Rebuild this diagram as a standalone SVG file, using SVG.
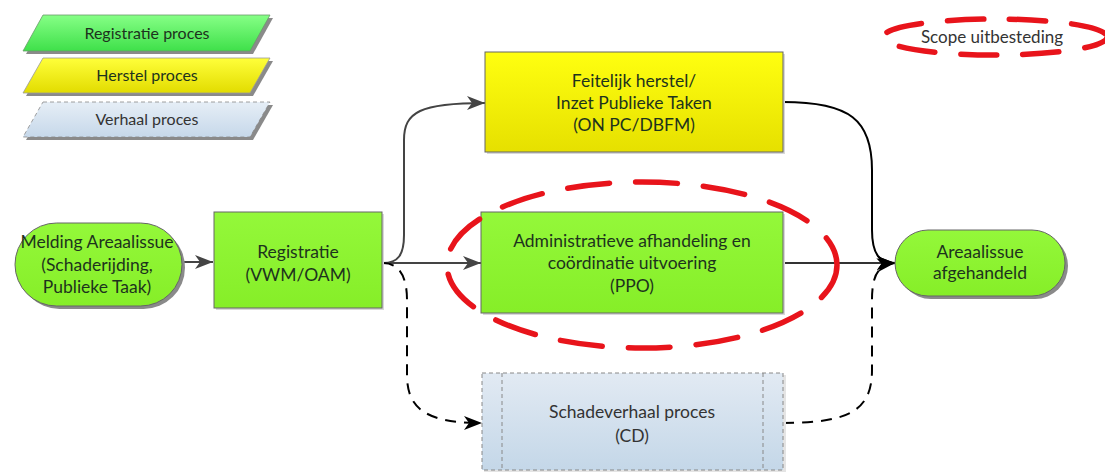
<svg xmlns="http://www.w3.org/2000/svg" width="1105" height="472" viewBox="0 0 1105 472">
<defs>
<linearGradient id="gLeg" x1="0" y1="0" x2="0" y2="1"><stop offset="0" stop-color="#86ff86"/><stop offset="1" stop-color="#3fe04a"/></linearGradient>
<linearGradient id="yLeg" x1="0" y1="0" x2="0" y2="1"><stop offset="0" stop-color="#ffff3a"/><stop offset="1" stop-color="#e2dc00"/></linearGradient>
<linearGradient id="bLeg" x1="0" y1="0" x2="0" y2="1"><stop offset="0" stop-color="#e6eef6"/><stop offset="1" stop-color="#c6d8ea"/></linearGradient>
<linearGradient id="gBox" x1="0" y1="0" x2="0" y2="1"><stop offset="0" stop-color="#94f83a"/><stop offset="1" stop-color="#86ee28"/></linearGradient>
<linearGradient id="yBox" x1="0" y1="0" x2="0" y2="1"><stop offset="0" stop-color="#ffff10"/><stop offset="1" stop-color="#e6e000"/></linearGradient>
<linearGradient id="bBox" x1="0" y1="0" x2="0" y2="1"><stop offset="0" stop-color="#e2eaf3"/><stop offset="1" stop-color="#c4d7e8"/></linearGradient>
<marker id="ahG" viewBox="0 0 18 14" markerWidth="18" markerHeight="14" refX="18" refY="7" orient="auto" markerUnits="userSpaceOnUse"><path d="M0,0 L18,7 L0,14 L5,7 z" fill="#444"/></marker>
<marker id="ahK" viewBox="0 0 18 14" markerWidth="18" markerHeight="14" refX="18" refY="7" orient="auto" markerUnits="userSpaceOnUse"><path d="M0,0 L18,7 L0,14 L5,7 z" fill="#000"/></marker>
</defs>
<style>
text{font-family:Lato,"Open Sans","Liberation Sans",sans-serif;text-anchor:middle;}
.lt{font-size:16px;fill:#1d331d;}
.nt{font-size:17.5px;fill:#1d331d;}
.st{font-size:17px;fill:#333;}
.bt{fill:#333;}
.shadow{fill:#8a8a8a;}
.box{stroke:#666;stroke-width:1;}
.conn{fill:none;stroke-width:2;}
.scope{fill:none;stroke:#e8141b;stroke-width:5.5;stroke-linecap:round;}
</style>
<rect width="1105" height="472" fill="#fff"/>

<g id="legend-registratie">
<polygon class="shadow" points="46,18 273,18 253,54 26,54"/>
<polygon points="43,15 270,15 250,51 23,51" fill="url(#gLeg)" stroke="#6a9a6a" stroke-width="0.8"/>
<text class="lt" x="147" y="39">Registratie proces</text>
</g>
<g id="legend-herstel">
<polygon class="shadow" points="46,61 273,61 253,96 26,96"/>
<polygon points="43,58 270,58 250,93 23,93" fill="url(#yLeg)" stroke="#999" stroke-width="0.8"/>
<text class="lt" x="147" y="81">Herstel proces</text>
</g>
<g id="legend-verhaal">
<polygon class="shadow" points="46,105 273,105 253,140 26,140"/>
<polygon points="43,102 270,102 250,137 23,137" fill="url(#bLeg)" stroke="#888" stroke-width="0.8" stroke-dasharray="4,3"/>
<text class="lt bt" x="147" y="125">Verhaal proces</text>
</g>

<g id="scope-legend">
<ellipse class="scope" cx="995" cy="37" rx="112" ry="18" stroke-dasharray="36,26" stroke-dashoffset="10"/>
<text class="st" x="992" y="43">Scope uitbesteding</text>
</g>

<g id="connectors">
<path class="conn" stroke="#444" d="M183,262 L213,262" marker-end="url(#ahG)"/>
<path class="conn" stroke="#444" d="M383,263 L481,263" marker-end="url(#ahG)"/>
<path class="conn" stroke="#444" d="M383,263 C398,263 404,255 404,235 L404,140 C404,112 420,103 485,103" marker-end="url(#ahG)"/>
<path class="conn" stroke="#000" stroke-dasharray="11,8" d="M383,263 C400,263 407,278 407,300 L407,375 C407,408 425,423 482,423" marker-end="url(#ahK)"/>
<path class="conn" stroke="#000" d="M783,102 C850,102 872,120 872,170 L872,230 C872,255 880,263 895,263" marker-end="url(#ahK)"/>
<path class="conn" stroke="#333" d="M783,263 L895,263" marker-end="url(#ahK)"/>
<path class="conn" stroke="#000" stroke-dasharray="11,8" d="M783,423 C850,423 872,410 872,370 L872,300 C872,275 878,265 895,263" marker-end="url(#ahK)"/>
</g>

<g id="node-melding">
<rect x="18" y="226" width="167" height="83" rx="41.5" fill="#8a8a8a"/>
<rect class="box" x="15" y="223" width="167" height="83" rx="41.5" fill="url(#gBox)"/>
<text class="nt" x="97" y="248">Melding Areaalissue</text>
<text class="nt" x="97" y="271">(Schaderijding,</text>
<text class="nt" x="97" y="293">Publieke Taak)</text>
</g>

<g id="node-registratie">
<rect x="216" y="214" width="168" height="96" fill="#d8d8d8"/>
<rect class="box" x="214" y="212" width="168" height="96" fill="url(#gBox)"/>
<text class="nt" x="298" y="258">Registratie</text>
<text class="nt" x="298" y="281">(VWM/OAM)</text>
</g>

<g id="node-feitelijk">
<rect x="487" y="54" width="298" height="100" fill="#d8d8d8"/>
<rect class="box" x="485" y="52" width="298" height="100" fill="url(#yBox)"/>
<text class="nt" x="634" y="87">Feitelijk herstel/</text>
<text class="nt" x="634" y="109">Inzet Publieke Taken</text>
<text class="nt" x="634" y="131">(ON PC/DBFM)</text>
</g>

<g id="node-administratief">
<rect x="483" y="214" width="302" height="101" fill="#d8d8d8"/>
<rect class="box" x="481" y="212" width="302" height="101" fill="url(#gBox)"/>
<text class="nt" x="632" y="247">Administratieve afhandeling en</text>
<text class="nt" x="632" y="269">coördinatie uitvoering</text>
<text class="nt" x="632" y="292">(PPO)</text>
</g>

<g id="node-schadeverhaal">
<rect x="484" y="375" width="302" height="97" fill="#e4e4e4"/>
<rect x="482" y="373" width="301" height="97" fill="url(#bBox)" stroke="#888" stroke-width="1" stroke-dasharray="4,3"/>
<line x1="502" y1="373" x2="502" y2="470" stroke="#888" stroke-width="1" stroke-dasharray="4,3"/>
<line x1="763" y1="373" x2="763" y2="470" stroke="#888" stroke-width="1" stroke-dasharray="4,3"/>
<text class="nt bt" x="632" y="418">Schadeverhaal proces</text>
<text class="nt bt" x="632" y="442">(CD)</text>
</g>

<g id="node-areaalissue">
<rect x="898" y="233" width="170" height="66" rx="33" fill="#8a8a8a"/>
<rect class="box" x="895" y="230" width="170" height="66" rx="33" fill="url(#gBox)"/>
<text class="nt" x="980" y="258">Areaalissue</text>
<text class="nt" x="980" y="279">afgehandeld</text>
</g>

<g id="scope-ppo">
<ellipse class="scope" cx="642" cy="265" rx="195" ry="83" stroke-dasharray="42,26" stroke-dashoffset="5"/>
</g>
</svg>
